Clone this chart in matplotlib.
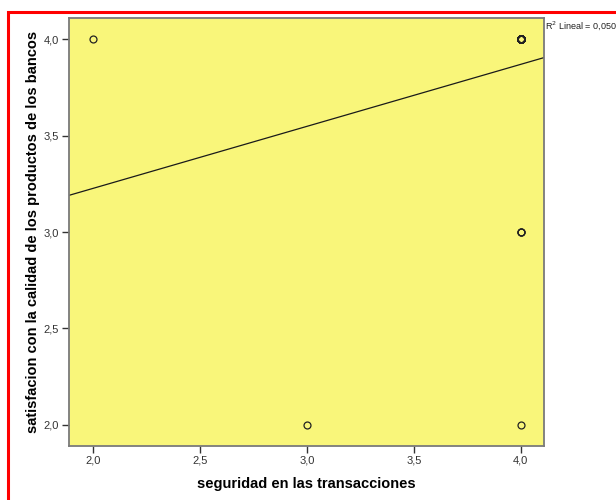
import numpy as np
import matplotlib
matplotlib.use("Agg")
import matplotlib.pyplot as plt
from matplotlib.patches import Rectangle

# Observations: (seguridad, satisfaccion) and how many respondents share each pair
seguridad = [2.0, 3.0, 4.0, 4.0, 4.0]
satisfaccion = [4.0, 2.0, 4.0, 3.0, 2.0]
frecuencia = [1, 1, 40, 3, 1]

x_ticks = [2.0, 2.5, 3.0, 3.5, 4.0]
y_ticks = [2.0, 2.5, 3.0, 3.5, 4.0]

# Expand to one row per respondent for the least-squares fit
x_all = np.repeat(seguridad, frecuencia)
y_all = np.repeat(satisfaccion, frecuencia)
slope, intercept = np.polyfit(x_all, y_all, 1)
pred = slope * x_all + intercept
r2 = 1 - np.sum((y_all - pred) ** 2) / np.sum((y_all - y_all.mean()) ** 2)

plt.rcParams["font.family"] = ["Liberation Sans", "DejaVu Sans"]

W, H = 616, 500
fig = plt.figure(figsize=(W / 100, H / 100), dpi=100)
ax = fig.add_axes([69 / W, (H - 446) / H, 475 / W, 428 / H])
ax.set_facecolor("#F9F67A")

xlim = (1.887, 4.109)
ax.set_xlim(*xlim)
ax.set_ylim(1.891, 4.109)

# Points (repeated points overlap and print darker)
for xv, yv, n in zip(seguridad, satisfaccion, frecuencia):
    ax.plot([xv] * n, [yv] * n, linestyle="none", marker="o", markersize=5,
            markerfacecolor="none", markeredgecolor="#222222",
            markeredgewidth=0.9, zorder=3)

# Fit line across the full x range
xx = np.array(xlim)
ax.plot(xx, slope * xx + intercept, color="#1a1a1a", linewidth=0.9, zorder=2)

ax.set_xticks(x_ticks)
ax.set_yticks(y_ticks)
fmt = lambda v: f"{v:.1f}".replace(".", ",")
ax.set_xticklabels([fmt(v) for v in x_ticks])
ax.set_yticklabels([fmt(v) for v in y_ticks])
ax.tick_params(direction="out", length=5, width=1, color="#333333",
               labelsize=8, labelcolor="#333333", pad=2)

for s in ax.spines.values():
    s.set_color("#7a7a7a")
    s.set_linewidth(1.3)

ax.set_xlabel("seguridad en las transacciones", fontsize=10.5, fontweight="bold",
              labelpad=8)
ax.set_ylabel("satisfacion con la calidad de los productos de los bancos",
              fontsize=10.5, fontweight="bold", labelpad=3)

# R² annotation beside the top-right corner of the plot area
fig.text(545 / W, 1 - 26 / H, "R$^2$ Lineal = " + f"{r2:.3f}".replace(".", ","),
         fontsize=6.5, color="#222222", va="center", ha="left")

# Red frame around the chart
fig.patches.append(Rectangle((8 / W, -0.1), 1.2, 1 - 12 / H + 0.1,
                             transform=fig.transFigure, fill=False,
                             edgecolor="#ff0000", linewidth=2.2))

fig.savefig("out.png", dpi=100)
